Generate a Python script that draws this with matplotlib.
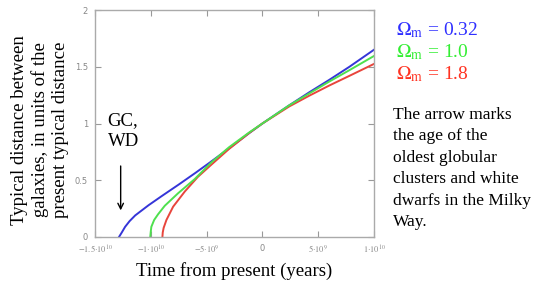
import numpy as np
import matplotlib
matplotlib.use('Agg')
import matplotlib.pyplot as plt

plt.rcParams['font.family'] = ['Liberation Serif', 'DejaVu Serif']
plt.rcParams['mathtext.fontset'] = 'stix'

# time from present in Gyr
t_blue = [-12.85, -12.6, -12.3, -11.9, -11.4, -10.2, -9.0, -7.5, -6.0, -4.7, -3.0, -1.2, 0, 1.2, 2.4, 4.2, 6.0, 7.8, 10.0]
y_blue = [0, 0.04, 0.09, 0.14, 0.19, 0.28, 0.362, 0.462, 0.565, 0.657, 0.78, 0.914, 1.0, 1.08, 1.16, 1.275, 1.385, 1.5, 1.65]

t_green = [-10.05, -10.0, -9.95, -9.7, -9.35, -8.75, -7.56, -6.07, -4.6, -3.0, -1.2, 0, 2.4, 4.2, 6.0, 7.8, 10.0]
y_green = [0, 0.05, 0.09, 0.15, 0.2, 0.275, 0.385, 0.51, 0.655, 0.79, 0.92, 1.0, 1.16, 1.265, 1.37, 1.47, 1.595]

t_red = [-8.96, -8.93, -8.85, -8.6, -8.0, -6.96, -5.78, -4.6, -3.0, -1.2, 0, 2.4, 4.2, 6.0, 7.8, 10.0]
y_red = [0, 0.04, 0.08, 0.15, 0.267, 0.4, 0.53, 0.635, 0.775, 0.915, 1.0, 1.15, 1.245, 1.335, 1.42, 1.525]

xticks = [-1.5e10, -1e10, -5e9, 0, 5e9, 1e10]
xlabels = [r'$-1.5{\cdot}10^{10}$', r'$-1{\cdot}10^{10}$', r'$-5{\cdot}10^{9}$', '0',
           r'$5{\cdot}10^{9}$', r'$1{\cdot}10^{10}$']
yticks = [0, 0.5, 1, 1.5, 2]
ylabels = ['0', '0.5', '1', '1.5', '2']

fig = plt.figure(figsize=(5.43, 2.86), dpi=100)
ax = fig.add_axes([95/543, 49/286, 279/543, 227/286])

ax.plot(np.array(t_blue)*1e9, y_blue, color='#3535d8', lw=1.4)
ax.plot(np.array(t_red)*1e9, y_red, color='#e8453c', lw=1.4)
ax.plot(np.array(t_green)*1e9, y_green, color='#4ee04e', lw=1.4)

ax.set_xlim(-1.5e10, 1e10)
ax.set_ylim(0, 2)
ax.set_xticks(xticks)
ax.set_xticklabels(xlabels)
ax.set_yticks(yticks)
ax.set_yticklabels(ylabels)
ax.tick_params(direction='in', length=4, width=0.8, color='#999999', labelcolor='#888888',
               labelsize=6, top=True, right=True, pad=5)
for lab in ax.get_xticklabels() + ax.get_yticklabels():
    lab.set_family('DejaVu Sans')
for s in ax.spines.values():
    s.set_color('#aaaaaa')
    s.set_linewidth(1.0)

fig.text(40/543, 1 - 130/286, 'Typical distance between\ngalaxies, in units of the\npresent typical distance',
         rotation=90, ha='center', va='center', fontsize=13.5, linespacing=1.25)
fig.text(234/543, 1 - 271/286, 'Time from present (years)', ha='center', va='center', fontsize=13.5)

ax.text(-1.388e10, 0.93, 'GC,\nWD', ha='left', va='center', fontsize=13.5, linespacing=1.3)
ax.annotate('', xy=(-1.27e10, 0.21), xytext=(-1.27e10, 0.65),
            arrowprops=dict(arrowstyle='->', color='black', lw=1.0))

fig.text(396/543, 1 - 30/286, r'$\Omega_\mathrm{m}$ = 0.32', color='#2f2fff', fontsize=14, va='center')
fig.text(396/543, 1 - 52/286, r'$\Omega_\mathrm{m}$ = 1.0', color='#33ee33', fontsize=14, va='center')
fig.text(396/543, 1 - 74/286, r'$\Omega_\mathrm{m}$ = 1.8', color='#ff3322', fontsize=14, va='center')

fig.text(393/543, 1 - 107/286, 'The arrow marks\nthe age of the\noldest globular\nclusters and white\ndwarfs in the Milky\nWay.',
         ha='left', va='top', fontsize=12.5, linespacing=1.45)

fig.savefig('out.png', dpi=100)
